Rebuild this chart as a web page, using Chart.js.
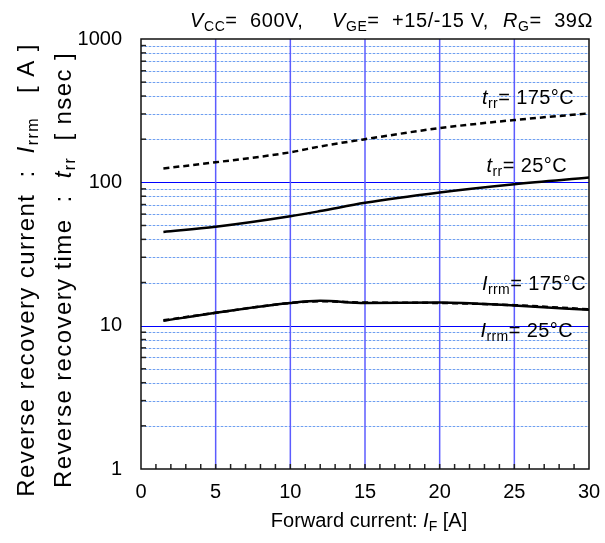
<!DOCTYPE html>
<html lang="en">
<head>
    <meta charset="UTF-8">
    <title>Reverse recovery characteristics</title>
    <script src="https://cdn.jsdelivr.net/npm/chart.js"></script>
    <style>
        body { margin: 0; background: white; }
        #wrap { width: 605px; height: 543px; }
    </style>
</head>
<body>
<div id="wrap"><canvas id="rr"></canvas></div>
<script>
    // data
    const forwardCurrent = [1.5, 5, 10, 12, 15, 20, 25, 30];
    const trr175 = [125, 138, 162, 178, 200, 239, 272, 303];
    const trr25 = [45, 49, 58, 63, 72, 85, 97, 108];
    const irrm175 = [10.8, 12.3, 14.4, 14.9, 14.4, 14.5, 13.8, 12.9];
    const irrm25 = [10.9, 12.3, 14.4, 14.8, 14.5, 14.4, 13.9, 13.0];
    const xTicks = [0, 5, 10, 15, 20, 25, 30];
    const yMajor = [1, 10, 100, 1000];

    const FONT = '"Liberation Sans", Arial, sans-serif';
    const pts = ys => forwardCurrent.map((x, i) => ({ x: x, y: ys[i] }));

    // text made of pieces: n = normal, i = italic, s = subscript
    function fontFor(kind, size) {
        if (kind === 'i') return 'italic ' + size + 'px ' + FONT;
        if (kind === 's') return Math.round(size * 0.68) + 'px ' + FONT;
        return size + 'px ' + FONT;
    }
    function richWidth(ctx, parts, size) {
        let w = 0;
        parts.forEach(p => {
            ctx.font = fontFor(p[0], size);
            w += ctx.measureText(p[1]).width;
        });
        return w;
    }
    function drawRich(ctx, parts, x, y, size, align, spacing) {
        ctx.letterSpacing = (spacing || 0) + 'px';
        let cx = x;
        if (align === 'right') cx = x - richWidth(ctx, parts, size);
        if (align === 'center') cx = x - richWidth(ctx, parts, size) / 2;
        ctx.fillStyle = '#000';
        ctx.textBaseline = 'alphabetic';
        ctx.textAlign = 'left';
        parts.forEach(p => {
            ctx.font = fontFor(p[0], size);
            ctx.fillText(p[1], cx, p[0] === 's' ? y + 4 : y);
            cx += ctx.measureText(p[1]).width;
        });
        ctx.letterSpacing = '0px';
    }

    const gridPlugin = {
        id: 'gridPlugin',
        beforeDatasetsDraw(chart) {
            const ctx = chart.ctx;
            const a = chart.chartArea;
            const xs = chart.scales.x, ys = chart.scales.y;
            ctx.save();
            // minor horizontal lines: light blue with darker dashes
            for (let d = 1; d < 1000; d *= 10) {
                for (let k = 2; k <= 9; k++) {
                    const py = Math.round(ys.getPixelForValue(d * k)) + 0.5;
                    ctx.lineWidth = 1;
                    ctx.setLineDash([]);
                    ctx.strokeStyle = '#cfe0fb';
                    ctx.beginPath(); ctx.moveTo(a.left, py); ctx.lineTo(a.right, py); ctx.stroke();
                    ctx.setLineDash([2, 2]);
                    ctx.strokeStyle = '#6f9ff0';
                    ctx.beginPath(); ctx.moveTo(a.left, py); ctx.lineTo(a.right, py); ctx.stroke();
                }
            }
            ctx.setLineDash([]);
            // major horizontal lines
            ctx.strokeStyle = '#0000ff';
            ctx.lineWidth = 1;
            [10, 100].forEach(v => {
                const py = Math.round(ys.getPixelForValue(v)) + 0.5;
                ctx.beginPath(); ctx.moveTo(a.left, py); ctx.lineTo(a.right, py); ctx.stroke();
            });
            // vertical lines
            ctx.strokeStyle = '#5c5cff';
            ctx.lineWidth = 1.5;
            [5, 10, 15, 20, 25].forEach(v => {
                const px = xs.getPixelForValue(v);
                ctx.beginPath(); ctx.moveTo(px, a.top); ctx.lineTo(px, a.bottom); ctx.stroke();
            });
            // inward ticks
            ctx.strokeStyle = '#222';
            ctx.lineWidth = 1.5;
            for (let d = 1; d < 1000; d *= 10) {
                for (let k = 2; k <= 9; k++) {
                    const py = ys.getPixelForValue(d * k);
                    ctx.beginPath(); ctx.moveTo(a.left, py); ctx.lineTo(a.left + 5, py); ctx.stroke();
                }
            }
            for (let v = 1; v < 30; v++) {
                const px = xs.getPixelForValue(v);
                ctx.beginPath(); ctx.moveTo(px, a.bottom); ctx.lineTo(px, a.bottom - 5); ctx.stroke();
            }
            // frame
            ctx.strokeStyle = '#111';
            ctx.lineWidth = 1.5;
            ctx.strokeRect(a.left, a.top, a.right - a.left, a.bottom - a.top);
            ctx.restore();
        },
        afterDraw(chart) {
            const ctx = chart.ctx;
            ctx.save();
            // conditions on top
            drawRich(ctx, [['i', 'V'], ['s', 'CC'], ['n', '=  600V,']], 190, 27, 20, 'left', 0.6);
            drawRich(ctx, [['i', 'V'], ['s', 'GE'], ['n', '=  +15/-15 V,']], 332, 27, 20, 'left', 0.6);
            drawRich(ctx, [['i', 'R'], ['s', 'G'], ['n', '=  39\u03a9']], 503, 27, 20, 'left', 0.6);
            // curve labels
            drawRich(ctx, [['i', 't'], ['s', 'rr'], ['n', '= 175\u00b0C']], 574, 104, 20, 'right', 0.4);
            drawRich(ctx, [['i', 't'], ['s', 'rr'], ['n', '= 25\u00b0C']], 567, 172, 20, 'right', 0.4);
            drawRich(ctx, [['i', 'I'], ['s', 'rrm'], ['n', '= 175\u00b0C']], 586, 290, 20, 'right', 0.4);
            drawRich(ctx, [['i', 'I'], ['s', 'rrm'], ['n', '= 25\u00b0C']], 573, 337, 20, 'right', 0.4);
            // x title
            drawRich(ctx, [['n', 'Forward current: '], ['i', 'I'], ['s', 'F'], ['n', ' [A]']], 369, 527, 20, 'center');
            // y title, two rotated lines
            ctx.translate(0, 270);
            ctx.rotate(-Math.PI / 2);
            drawRich(ctx, [['n', 'Reverse recovery current  :  '], ['i', 'I'], ['s', 'rrm'], ['n', '   [ A ]']], 0, 34, 24, 'center', 1.4);
            drawRich(ctx, [['n', 'Reverse recovery time  :  '], ['i', 't'], ['s', 'rr'], ['n', '  [ nsec ]']], 0, 71, 24, 'center', 1.4);
            ctx.restore();
        }
    };

    const lineStyle = (dash) => ({
        borderColor: '#000',
        borderWidth: 2.5,
        borderDash: dash,
        pointRadius: 0,
        fill: false,
        cubicInterpolationMode: 'monotone'
    });

    new Chart(document.getElementById('rr'), {
        type: 'line',
        data: {
            datasets: [
                Object.assign({ label: 'trr 175C', data: pts(trr175) }, lineStyle([6, 4])),
                Object.assign({ label: 'trr 25C', data: pts(trr25) }, lineStyle([])),
                Object.assign({ label: 'Irrm 175C', data: pts(irrm175) }, lineStyle([])),
                Object.assign({ label: 'Irrm 25C', data: pts(irrm25) }, lineStyle([6, 4]))
            ]
        },
        options: {
            responsive: true,
            maintainAspectRatio: false,
            animation: false,
            layout: { padding: { left: 0, top: 39, right: 16, bottom: 0 } },
            plugins: { legend: { display: false }, tooltip: { enabled: false } },
            scales: {
                x: {
                    type: 'linear',
                    min: 0, max: 30,
                    afterBuildTicks: s => { s.ticks = xTicks.map(v => ({ value: v })); },
                    grid: { display: false },
                    border: { display: false },
                    ticks: { color: '#000', font: { size: 20, family: FONT }, padding: 3, maxRotation: 0 },
                    afterFit: s => { s.height = 74; }
                },
                y: {
                    type: 'logarithmic',
                    min: 1, max: 1000,
                    afterBuildTicks: s => { s.ticks = yMajor.map(v => ({ value: v })); },
                    grid: { display: false },
                    border: { display: false },
                    ticks: { color: '#000', font: { size: 20, family: FONT }, padding: 11, callback: v => String(v) },
                    afterFit: s => { s.width = 141; }
                }
            }
        },
        plugins: [gridPlugin]
    });
</script>
</body>
</html>
